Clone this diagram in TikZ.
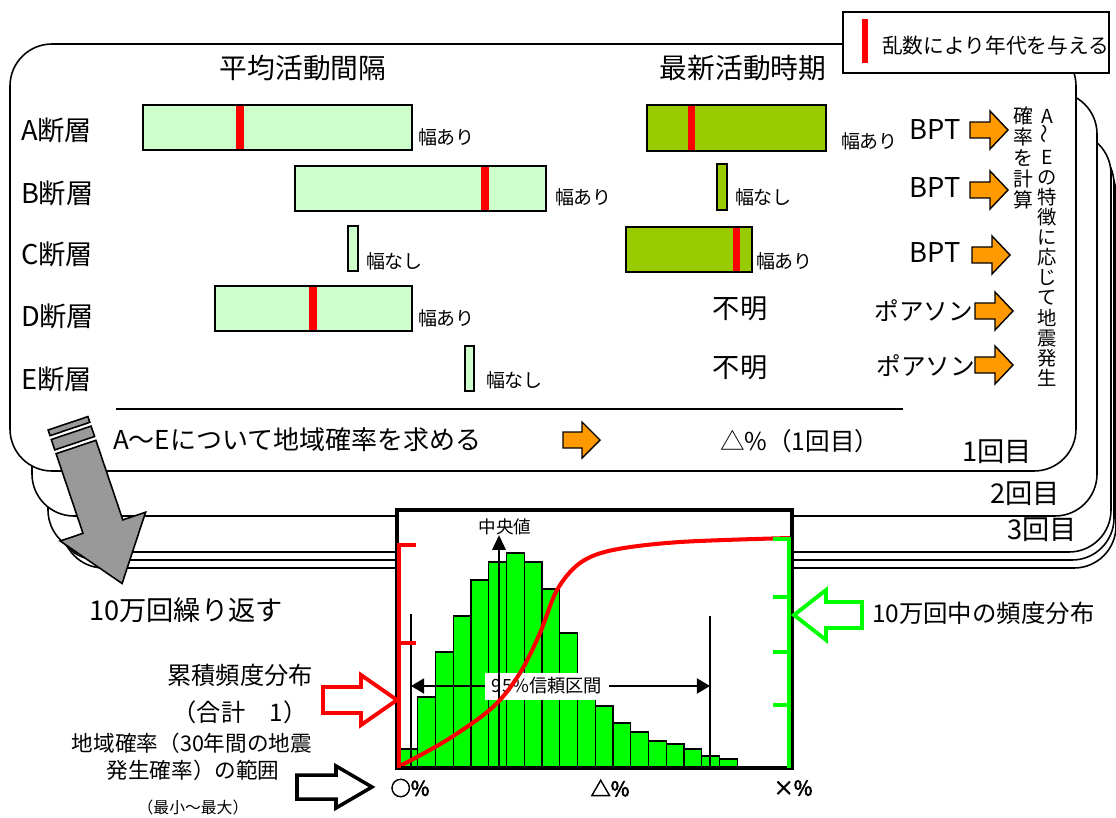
\documentclass[tikz,border=0pt]{standalone}
\usepackage{fontspec}
\setmainfont{Noto Sans CJK JP}
\newfontfamily\fbold[FakeBold=3]{Noto Sans CJK JP}
\usepackage{graphicx}
\usetikzlibrary{arrows.meta}
\definecolor{lgreen}{HTML}{CCFFCC}
\definecolor{olive}{HTML}{99CC00}
\definecolor{orng}{HTML}{FF9900}
\definecolor{hgreen}{HTML}{00FF00}
\definecolor{hred}{HTML}{FF0000}
\definecolor{agray}{HTML}{999999}
\newcommand\blockR[7]{\draw[#1] ({#2-(#4)},{#3-(#6)}) -- ({#2-(#5)},{#3-(#6)}) -- ({#2-(#5)},{#3-(#7)}) -- (#2,#3) -- ({#2-(#5)},{#3+(#7)}) -- ({#2-(#5)},{#3+(#6)}) -- ({#2-(#4)},{#3+(#6)}) -- cycle;}
\begin{document}
\begin{tikzpicture}[x=0.02cm,y=-0.02cm,
  panel/.style={draw=black,fill=white,line width=0.9pt,rounded corners=0.84cm},
  txt/.style={inner sep=0pt,outer sep=0pt},
  fbig/.style={font=\fontsize{15.5pt}{17pt}\selectfont},
  fmid/.style={font=\fontsize{14pt}{16pt}\selectfont},
  fsmall/.style={font=\fontsize{10.8pt}{12pt}\selectfont},
  ibar/.style={draw=black,fill=lgreen,line width=0.8pt},
  lbar/.style={draw=black,fill=olive,line width=0.8pt},
  rmark/.style={fill=hred,draw=none},
  oarrow/.style={draw=black,fill=orng,line width=0.8pt,line join=miter},
  hbar/.style={draw=black,fill=hgreen,line width=0.8pt},
  axlbl/.style={inner sep=0pt,outer sep=0pt,font=\fontsize{11.5pt}{12pt}\fbold}
]
\useasboundingbox (0,0) rectangle (1116,818);
% stacked panels
\draw[panel] (62,152) rectangle (1116,568);
\draw[panel] (56,142) rectangle (1114,560);
\draw[panel] (48,132) rectangle (1111,552);
\draw[panel] (32,92) rectangle (1097,516);
\draw[panel] (10,44) rectangle (1076,471);
% legend
\draw[line width=0.9pt,fill=white] (843,12) rectangle (1109,73);
\fill[hred] (862,19) rectangle (868,63);
\node[txt,anchor=west,font=\fontsize{11.8pt}{13pt}\selectfont] (leg) at (882,46) {乱数により年代を与える};
% headers
\node[txt,font=\fontsize{15.8pt}{17pt}\selectfont] (h1) at (303,68) {平均活動間隔};
\node[txt,font=\fontsize{15.8pt}{17pt}\selectfont] (h2) at (743,68) {最新活動時期};
% row labels
\node[txt,fbig,anchor=west] (ra) at (21,130) {A断層};
\node[txt,fbig,anchor=west] (rb) at (21,193) {B断層};
\node[txt,fbig,anchor=west] (rc) at (21,254) {C断層};
\node[txt,fbig,anchor=west] (rd) at (21,316) {D断層};
\node[txt,fbig,anchor=west] (re) at (21,379) {E断層};
% mean interval bars
\draw[ibar] (143,105) rectangle (412,150);
\fill[rmark] (236,106) rectangle (244,149);
\draw[ibar] (295,166) rectangle (546,211);
\fill[rmark] (481,167) rectangle (489,210);
\draw[ibar] (348,226) rectangle (358,271);
\draw[ibar] (215,286) rectangle (412,331);
\fill[rmark] (309,287) rectangle (317,330);
\draw[ibar] (465,346) rectangle (474,391);
\node[txt,fsmall,anchor=west] (wa1) at (418,137) {幅あり};
\node[txt,fsmall,anchor=west] (wb1) at (555,197) {幅あり};
\node[txt,fsmall,anchor=west] (wc1) at (366,261) {幅なし};
\node[txt,fsmall,anchor=west] (wd1) at (418,318) {幅あり};
\node[txt,fsmall,anchor=west] (we1) at (486,380) {幅なし};
% latest activity bars
\draw[lbar] (647,105) rectangle (826,151);
\fill[rmark] (688,106) rectangle (695,150);
\draw[lbar] (717,164) rectangle (727,210);
\draw[lbar] (626,227) rectangle (752,272);
\fill[rmark] (733,228) rectangle (740,271);
\node[txt,fsmall,anchor=west] (wa2) at (841,141) {幅あり};
\node[txt,fsmall,anchor=west] (wb2) at (735,197) {幅なし};
\node[txt,fsmall,anchor=west] (wc2) at (756,261) {幅あり};
\node[txt,fbig] (ud) at (740,309) {不明};
\node[txt,fbig] (ue) at (740,368) {不明};
% models
\node[txt,fbig] (ma) at (935,130) {BPT};
\node[txt,fbig] (mb) at (935,188) {BPT};
\node[txt,fbig] (mc) at (935,253) {BPT};
\node[txt,fmid,anchor=east] (md) at (973,311) {ポアソン};
\node[txt,fmid,anchor=east] (me) at (975,366) {ポアソン};
\blockR{oarrow}{1008}{130}{38}{18}{8}{19}
\blockR{oarrow}{1008}{190}{38}{18}{8}{19}
\blockR{oarrow}{1010}{255}{38}{18}{8}{19}
\blockR{oarrow}{1013}{311}{38}{18}{8}{19}
\blockR{oarrow}{1013}{365}{38}{18}{8}{19}
% vertical texts
\node[txt,align=center,font=\fontsize{11.3pt}{12pt}\selectfont] (v1) at (1023,158) {確\\率\\を\\計\\算};
\node[txt,align=center,font=\fontsize{11pt}{11.45pt}\selectfont] (v2) at (1047,248) {A\\\rotatebox{90}{～}\\E\\の\\特\\徴\\に\\応\\じ\\て\\地\\震\\発\\生};
% bottom row of panel 1
\draw[line width=0.7pt] (116,409) -- (903,409);
\node[txt,font=\fontsize{14.8pt}{16pt}\selectfont,anchor=west] (areg) at (113,440) {A～Eについて地域確率を求める};
\blockR{oarrow}{600}{440}{37}{18}{8}{18}
\node[txt,fmid,anchor=west] (pct) at (720,441) {△\%（1回目）};
\node[txt,fbig,anchor=west] (k1) at (962,452) {1回目};
\node[txt,fbig,anchor=west] (k2) at (990,494) {2回目};
\node[txt,fbig,anchor=west] (k3) at (1007,530) {3回目};
% chart
\fill[white] (397,510) rectangle (792,768);
\foreach \i/\t in {0/749,1/697,2/652,3/616,4/580,5/562,6/553,7/562,8/589,9/633,10/688,11/706,12/723,13/732,14/741,15/744,16/749,17/756,18/759}
  \draw[hbar] ({400+17.75*\i},767) rectangle ({400+17.75*(\i+1)},\t);
\coordinate (cil) at (411,686);
\coordinate (cir) at (710,686);
\draw[line width=1.6pt] (411,614) -- (cil) -- (411,767);
\draw[line width=1.6pt] (710,616) -- (cir) -- (710,767);
\draw[line width=1.4pt,{Triangle[length=7.5pt,width=8.5pt]}-{Triangle[length=7.5pt,width=8.5pt]}] (cil) -- (cir);
\node[fill=white,inner xsep=0.14cm,inner ysep=0pt,minimum height=0.54cm,font=\fontsize{10.4pt}{11pt}\selectfont] (ci) at (547,686) {95\%信頼区間};
\coordinate (medbot) at (499,767);
\coordinate (medtop) at (499,535);
\draw[line width=1.6pt,-{Triangle[length=8.5pt,width=7.5pt]}] (medbot) -- (medtop);
\node[txt,font=\fontsize{10pt}{11pt}\selectfont] (med) at (505,527) {中央値};
\draw[hred,line width=2.3pt] plot[smooth,tension=0.55] coordinates {(398,767) (447,740) (493,707) (520,673) (540,633) (557,590) (580,563) (613,550) (680,542) (790,538)};
\draw[line width=2.6pt] (397,510) rectangle (792,768);
\draw[hred,line width=2.3pt] (416,545) -- (399,545) -- (399,768);
\draw[hred,line width=2.3pt] (399,643) -- (416,643);
\draw[hgreen,line width=2.3pt] (773,539) -- (789,539) -- (789,768);
\foreach \y in {597,652,705} \draw[hgreen,line width=2.3pt] (773,\y) -- (789,\y);
\node[axlbl] (x0) at (410,788) {○\%};
\node[axlbl] (x1) at (610,788) {△\%};
\node[axlbl] (x2) at (793,788) {×\%};
% hollow arrows
\blockR{draw=hred,fill=white,line width=2.2pt,line join=miter}{397}{700}{74}{36}{13}{25}
\blockR{draw=black,fill=white,line width=2pt,line join=miter}{372}{787}{75}{36}{12}{21}
\blockR{draw=hgreen,fill=white,line width=2.2pt,line join=miter}{794}{615}{-68}{-32}{13}{25}
% left texts
\node[txt,fbig] (rep) at (186,610) {10万回繰り返す};
\node[txt,font=\fontsize{13.8pt}{15pt}\selectfont] (cum) at (240,675) {累積頻度分布};
\node[txt,font=\fontsize{13.8pt}{15pt}\selectfont] (sum) at (240,712) {（合計　1）};
\node[txt,font=\fontsize{12.3pt}{13pt}\selectfont] (rg1) at (192,743) {地域確率（30年間の地震};
\node[txt,font=\fontsize{12.3pt}{13pt}\selectfont] (rg2) at (193,770) {発生確率）の範囲};
\node[txt,font=\fontsize{9pt}{10pt}\selectfont] (rg3) at (193,807) {（最小～最大）};
\node[txt,font=\fontsize{13.9pt}{15pt}\selectfont,anchor=west] (freq) at (872,613) {10万回中の頻度分布};
% grey striped arrow
\begin{scope}[draw=black,fill=agray,line width=0.9pt,line join=miter]
\filldraw (48.1,430) -- (87.9,416.6) -- (89.8,422.3) -- (50,435.7) -- cycle;
\filldraw (51.3,439.5) -- (91.1,426.1) -- (94.6,436.5) -- (54.8,449.9) -- cycle;
\filldraw (56.1,453.7) -- (95.9,440.3) -- (122.8,519.9) -- (145.6,512.2) -- (122.1,583.5) -- (60.2,541) -- (83,533.3) -- cycle;
\end{scope}
\end{tikzpicture}
\end{document}
